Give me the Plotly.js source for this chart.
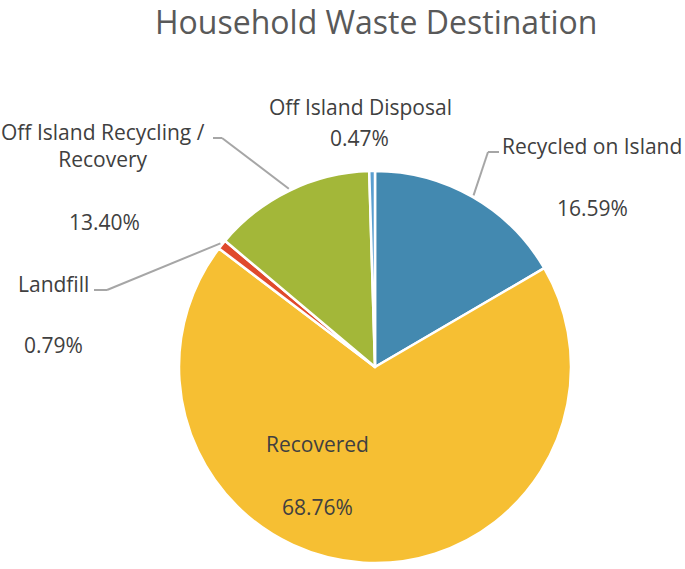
<!DOCTYPE html>
<html><head><meta charset="utf-8">
<script src="https://cdn.plot.ly/plotly-3.0.1.min.js"></script>
<style>html,body{margin:0;padding:0;background:#fff}</style>
</head><body>
<div id="chart" style="width:685px;height:569px"></div>
<script>
// ---- data ----
const categories = ['Recycled on Island', 'Recovered', 'Landfill', 'Off Island Recycling / Recovery', 'Off Island Disposal'];
const shares = [16.59, 68.76, 0.79, 13.40, 0.47];
const sliceColors = ['#4389B0', '#F6BF33', '#E04A2C', '#A3B739', '#5B9FD0'];
const chartTitle = 'Household Waste Destination';

// ---- geometry (pixels) ----
const W = 685, H = 569;
const cx = 375, cy = 367, R = 196;
const fx = x => x / W, fy = y => 1 - y / H;

// label placement: name anchor, percent anchor, optional elbow for leader line
const place = [
  {nx: 500, ny: 146, nxa: 'left', px: 592, py: 208, elbow: [[488, 152], [499, 152]]},
  {nx: 317, ny: 444, nxa: 'center', px: 317, py: 507},
  {nx: 53, ny: 284, nxa: 'center', px: 53, py: 345, elbow: [[107, 290], [94, 290]]},
  {nx: 103, ny: 145, nxa: 'center', px: 104, py: 222, elbow: [[222, 138], [213, 138]]},
  {nx: 360, ny: 107, nxa: 'center', px: 359, py: 138}
];

const total = shares.reduce((a, b) => a + b, 0);
const annotations = [{
  text: chartTitle, xref: 'paper', yref: 'paper', x: fx(376), y: fy(22),
  xanchor: 'center', yanchor: 'middle', showarrow: false, borderpad: 0,
  font: {family: 'Open Sans, sans-serif', size: 32, color: '#595959'}
}];
const shapes = [];
let cum = 0;
categories.forEach((c, i) => {
  const mid = (cum + shares[i] / 2) / total * 2 * Math.PI;
  cum += shares[i];
  const p = place[i];
  const font = {family: 'Open Sans, sans-serif', size: 21, color: '#404040'};
  annotations.push({
    text: c.replace(' / ', ' /<br>'), xref: 'paper', yref: 'paper',
    x: fx(p.nx), y: fy(p.ny), xanchor: p.nxa, yanchor: 'middle',
    showarrow: false, font: font, align: 'center'
  });
  annotations.push({
    text: shares[i].toFixed(2) + '%', xref: 'paper', yref: 'paper',
    x: fx(p.px), y: fy(p.py), xanchor: 'center', yanchor: 'middle',
    showarrow: false, font: font
  });
  if (p.elbow) {
    const ax = cx + R * 1.01 * Math.sin(mid), ay = cy - R * 1.01 * Math.cos(mid);
    const pts = [[ax, ay]].concat(p.elbow);
    for (let k = 0; k < pts.length - 1; k++) {
      shapes.push({type: 'line', xref: 'paper', yref: 'paper',
        x0: fx(pts[k][0]), y0: fy(pts[k][1]), x1: fx(pts[k + 1][0]), y1: fy(pts[k + 1][1]),
        line: {color: '#A6A6A6', width: 2}});
    }
  }
});

const trace = {
  type: 'pie', labels: categories, values: shares, sort: false,
  direction: 'clockwise', rotation: 0, textinfo: 'none', hoverinfo: 'label+percent',
  marker: {colors: sliceColors, line: {color: '#FFFFFF', width: 2.5}},
  domain: {x: [fx(cx - R), fx(cx + R)], y: [fy(cy + R), fy(cy - R)]},
  showlegend: false
};

Plotly.newPlot('chart', [trace], {
  width: W, height: H, margin: {l: 0, r: 0, t: 0, b: 0},
  paper_bgcolor: '#FFFFFF', showlegend: false,
  annotations: annotations, shapes: shapes
}, {staticPlot: true});
</script>
</body></html>
